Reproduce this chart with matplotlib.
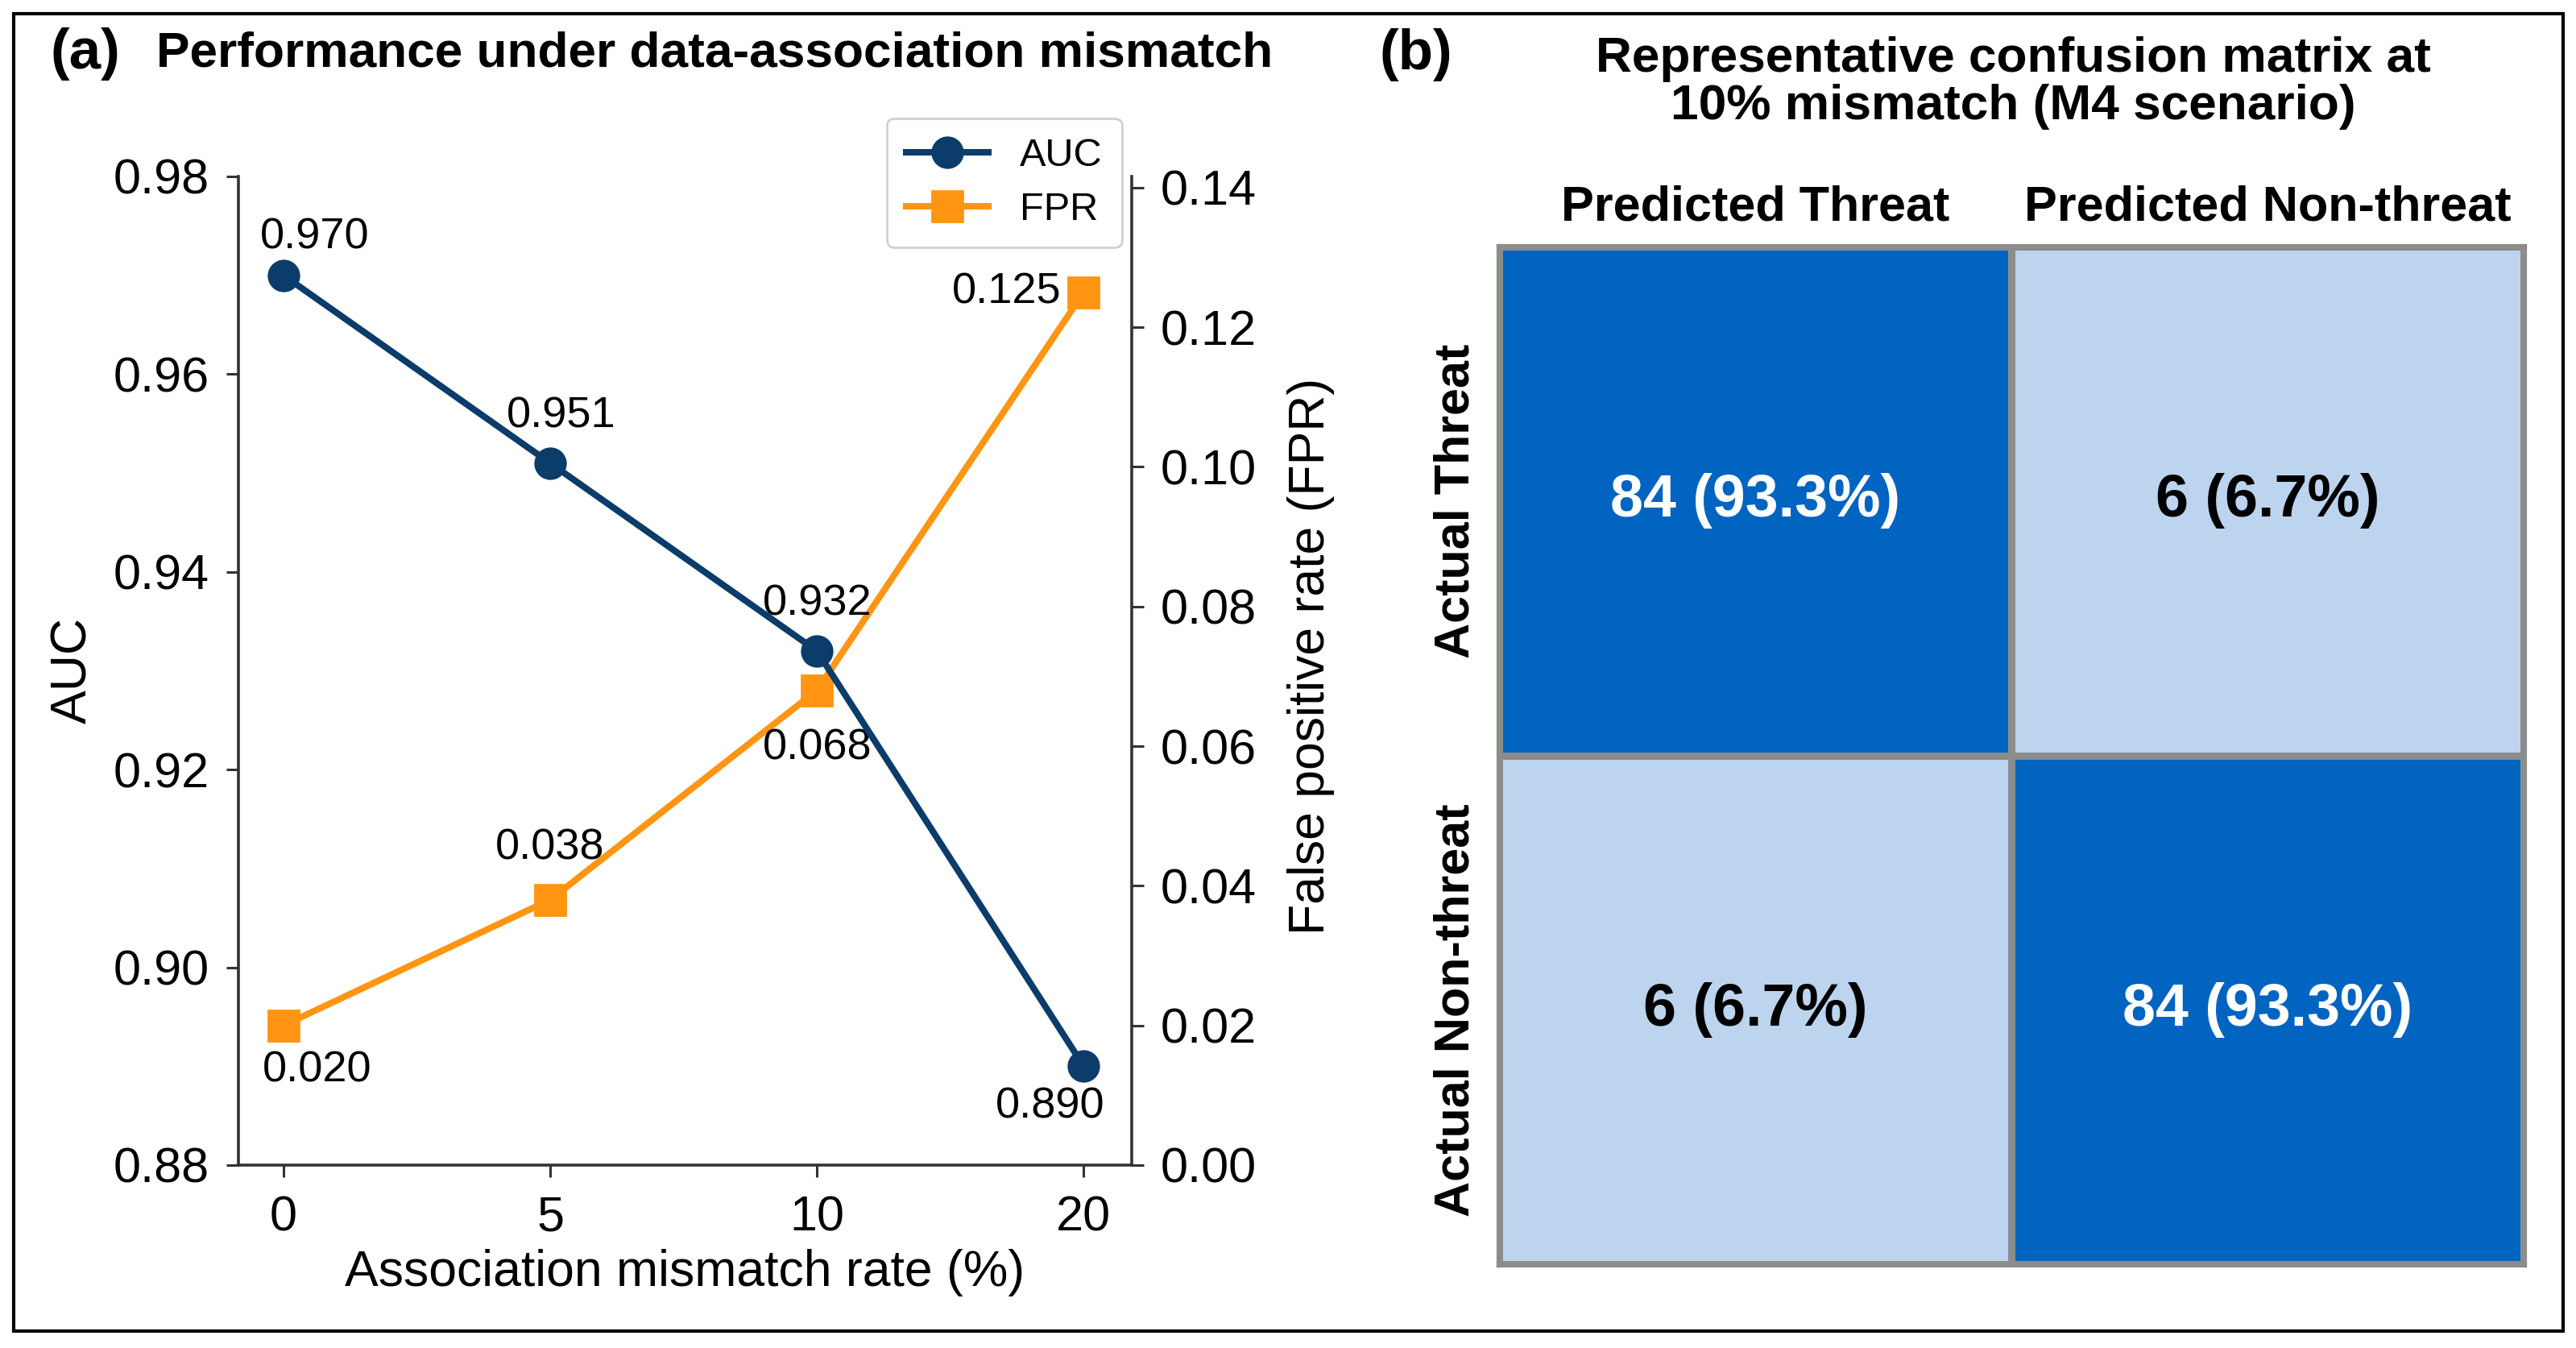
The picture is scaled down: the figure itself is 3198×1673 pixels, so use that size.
import numpy as np
import matplotlib
matplotlib.use("Agg")
import matplotlib.pyplot as plt
from matplotlib.colors import LinearSegmentedColormap
from matplotlib.patches import Rectangle

plt.rcParams['font.family'] = ['Liberation Sans', 'DejaVu Sans']

# ---------------- data ----------------
mismatch_rates = ['0', '5', '10', '20']          # association mismatch rate (%)
auc_values = [0.970, 0.951, 0.932, 0.890]
fpr_values = [0.020, 0.038, 0.068, 0.125]

cm_col_labels = ['Predicted Threat', 'Predicted Non-threat']
cm_row_labels = ['Actual Threat', 'Actual Non-threat']
cm_counts = [[84, 6],
             [6, 84]]

# ---------------- styles ----------------
AUC_COLOR = '#0b3c6a'
FPR_COLOR = '#ff9512'
SPINE_COLOR = '#333333'
CM_LIGHT = '#bcd4ee'
CM_DARK = '#0064c0'
CM_EDGE = '#8c8c8c'

# annotation offsets (points) per point: (dx, dy, ha)
auc_offsets = [(14, 17, 'center'), (5, 21, 'center'), (0, 21, 'center'), (-15, -18, 'center')]
fpr_offsets = [(15, -20, 'center'), (0, 23, 'center'), (0, -26, 'center'), (-10, 0, 'right')]

W, H = 3198, 1673
DPI = 200
fig = plt.figure(figsize=(W / DPI, H / DPI), dpi=DPI)
fig.patch.set_facecolor('white')

def fx(px):
    return px / W

def fy(py):
    return 1 - py / H

# ---------------- panel (a) ----------------
ax = fig.add_axes([fx(296), fy(1446), fx(1405) - fx(296), fy(219) - fy(1446)])
ax2 = ax.twinx()

l1, = ax.plot(mismatch_rates, auc_values, color=AUC_COLOR, marker='o', markersize=13.5,
              linewidth=2.9, label='AUC', zorder=3)
l2, = ax2.plot(mismatch_rates, fpr_values, color=FPR_COLOR, marker='s', markersize=13.5,
               linewidth=2.9, label='FPR', zorder=2)

ax.set_zorder(ax2.get_zorder() + 1)
ax.patch.set_visible(False)

ax.set_xlim(-0.169, 3.18)
ax.set_ylim(0.88, 0.98)
ax.set_yticks(np.arange(0.88, 0.981, 0.02))
ax.yaxis.set_major_formatter(matplotlib.ticker.FormatStrFormatter('%.2f'))
ax2.set_ylim(0.0, 0.1416)
ax2.set_yticks(np.arange(0.0, 0.141, 0.02))
ax2.yaxis.set_major_formatter(matplotlib.ticker.FormatStrFormatter('%.2f'))

for a in (ax, ax2):
    a.spines['top'].set_visible(False)
    for s in a.spines.values():
        s.set_color(SPINE_COLOR)
        s.set_linewidth(1.3)
    a.tick_params(labelsize=22, length=5.5, width=1.1, color=SPINE_COLOR, pad=7.5)
ax.spines['right'].set_visible(False)
ax2.spines['left'].set_visible(False)
ax2.spines['bottom'].set_visible(False)
ax.tick_params(axis='x', pad=8)

ax.set_xlabel('Association mismatch rate (%)', fontsize=22.5)
ax.xaxis.label.set_va('center')
ax.xaxis.set_label_coords(0.5, -0.109)
ax.set_ylabel('AUC', fontsize=22.5)
ax.yaxis.label.set_va('center')
ax.yaxis.set_label_coords(-0.185, 0.5)
ax2.set_ylabel('False positive rate (FPR)', fontsize=22.5, rotation=90)
ax2.yaxis.label.set_va('center')
ax2.yaxis.set_label_coords(1.201, 0.515)

for x, v, (dx, dy, ha) in zip(mismatch_rates, auc_values, auc_offsets):
    ax.annotate(f'{v:.3f}', (x, v), xytext=(dx, dy), textcoords='offset points',
                ha=ha, va='center', fontsize=19.5, color='black', zorder=5)
for x, v, (dx, dy, ha) in zip(mismatch_rates, fpr_values, fpr_offsets):
    ax2.annotate(f'{v:.3f}', (x, v), xytext=(dx, dy), textcoords='offset points',
                 ha=ha, va='center', fontsize=19.5, color='black', zorder=5)

leg = ax.legend(handles=[l1, l2], loc='upper right',
                bbox_to_anchor=(0.989, 1.059), borderaxespad=0, fontsize=17.5,
                frameon=True, fancybox=True, framealpha=1, edgecolor='#d0d0d0',
                handlelength=2.1, borderpad=0.5, labelspacing=0.45)
leg.set_zorder(10)

fig.text(fx(62), fy(67), '(a)', fontsize=25.5, fontweight='bold', ha='left', va='center')
fig.text(fx(194), fy(67), 'Performance under data-association mismatch', fontsize=22.4,
         fontweight='bold', ha='left', va='center')

# ---------------- panel (b) ----------------
cm = np.array(cm_counts, dtype=float)
row_tot = cm.sum(axis=1, keepdims=True)
pct = cm / row_tot * 100

axb = fig.add_axes([fx(1861), fy(1569), fx(3133) - fx(1861), fy(306) - fy(1569)])
cmap = LinearSegmentedColormap.from_list('cmblue', [CM_LIGHT, CM_DARK])
axb.pcolormesh(cm, cmap=cmap, vmin=cm.min(), vmax=cm.max(),
               edgecolors=CM_EDGE, linewidth=2.6)
axb.set_xlim(0, cm.shape[1])
axb.set_ylim(cm.shape[0], 0)
for s in axb.spines.values():
    s.set_color(CM_EDGE)
    s.set_linewidth(2.6)

axb.xaxis.tick_top()
axb.set_xticks(np.arange(cm.shape[1]) + 0.5)
axb.set_xticklabels(cm_col_labels, fontsize=22, fontweight='bold')
axb.set_yticks(np.arange(cm.shape[0]) + 0.5)
axb.set_yticklabels(cm_row_labels, fontsize=22, fontweight='bold', rotation=90, va='center')
axb.tick_params(axis='x', length=0, pad=7)
axb.tick_params(axis='y', length=0, pad=9)

thr = (cm.max() + cm.min()) / 2
for i in range(cm.shape[0]):
    for j in range(cm.shape[1]):
        axb.text(j + 0.5, i + 0.5, f'{int(cm[i, j])} ({pct[i, j]:.1f}%)',
                 ha='center', va='center', fontsize=26.5, fontweight='bold',
                 color='white' if cm[i, j] > thr else 'black')

fig.text(fx(1712), fy(68), '(b)', fontsize=25.5, fontweight='bold', ha='left', va='center')
fig.text(fx(2499), fy(103), 'Representative confusion matrix at\n10% mismatch (M4 scenario)',
         fontsize=22.4, fontweight='bold', ha='center', va='center', multialignment='center',
         linespacing=1.03)

# outer frame
fig.add_artist(Rectangle((fx(17), fy(1652)), fx(3182) - fx(17), fy(17) - fy(1652),
                         transform=fig.transFigure, fill=False, edgecolor='black',
                         linewidth=1.5))

fig.savefig('out.png', dpi=DPI, facecolor='white')
